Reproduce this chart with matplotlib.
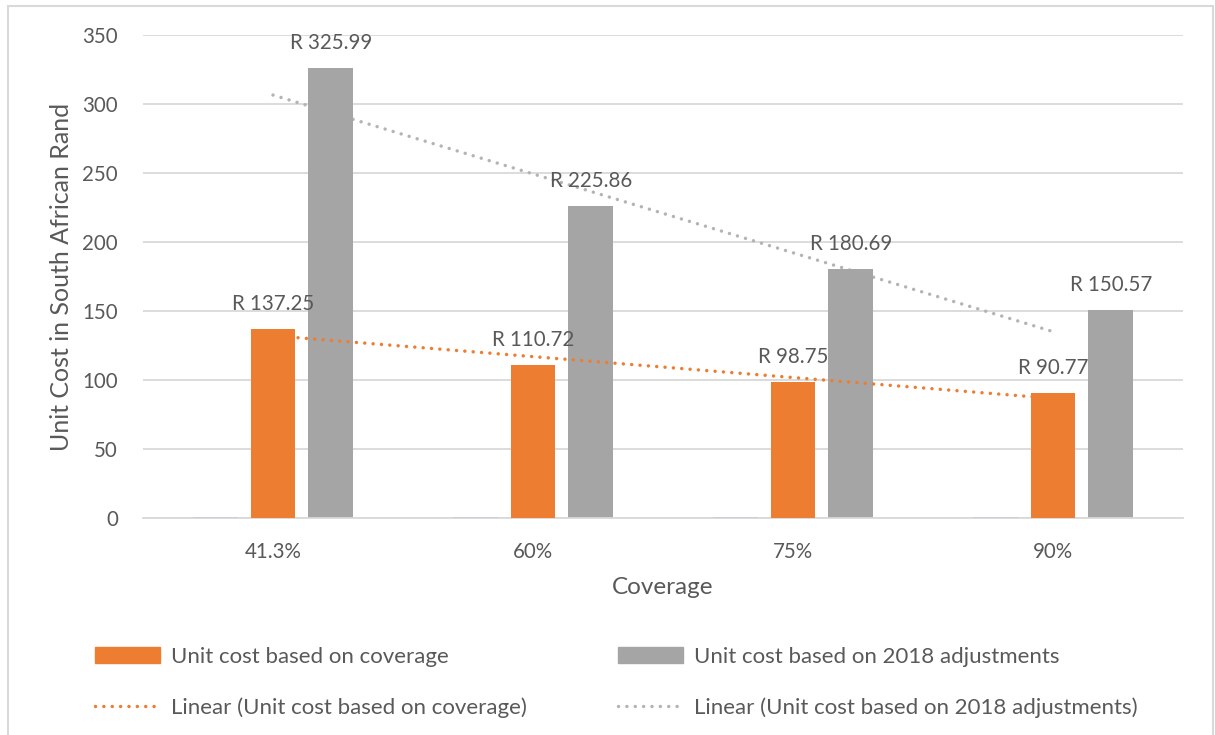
import numpy as np
import matplotlib
matplotlib.use("Agg")
import matplotlib.pyplot as plt
from matplotlib.patches import Rectangle
from matplotlib.lines import Line2D

# data
coverage_labels = ["41.3%", "60%", "75%", "90%"]
coverage_frac = [0.413, 0.60, 0.75, 0.90]          # hidden third series (near zero)
unit_cost_coverage = [137.25, 110.72, 98.75, 90.77]
unit_cost_2018 = [325.99, 225.86, 180.69, 150.57]

ORANGE = "#ED7D31"
GREY = "#A5A5A5"
GREY_TREND = "#B4B4B4"
BLUE = "#4472C4"
TEXT = "#595959"
GRID = "#D9D9D9"
DOTS = (0, (0.01, 2.4))

plt.rcParams["font.family"] = ["Lato", "DejaVu Sans"]

W, H = 1215, 735
fig = plt.figure(figsize=(W / 100, H / 100), dpi=100)
ax = fig.add_axes([143 / W, 1 - 518 / H, (1183 - 143) / W, (518 - 35) / H])

x = np.arange(1, len(coverage_labels) + 1)
bw = 0.173
off = 0.223

ax.bar(x - off, coverage_frac, bw, color=BLUE, zorder=2)
ax.bar(x, unit_cost_coverage, bw, color=ORANGE, zorder=4)
ax.bar(x + off, unit_cost_2018, bw, color=GREY, zorder=2)

# linear trend lines (Excel style, over category index)
xs = np.array([x[0], x[-1]])
p1 = np.polyfit(x, unit_cost_coverage, 1)
p2 = np.polyfit(x, unit_cost_2018, 1)
ax.plot(xs, np.polyval(p1, xs), color=ORANGE, lw=2.5, ls=DOTS,
        dash_capstyle="round", zorder=3)
ax.plot(xs, np.polyval(p2, xs), color=GREY_TREND, lw=2.5, ls=DOTS,
        dash_capstyle="round", zorder=1.5)

# data labels
for xi, v in zip(x, unit_cost_coverage):
    ax.annotate(f"R {v:.2f}", (xi, v), xytext=(0, 18), textcoords="offset points",
                ha="center", va="center", fontsize=14.8, color=TEXT, zorder=6)
for xi, v in zip(x + off, unit_cost_2018):
    ax.annotate(f"R {v:.2f}", (xi, v), xytext=(0, 18), textcoords="offset points",
                ha="center", va="center", fontsize=14.8, color=TEXT, zorder=6)

ax.set_xlim(0.5, 4.5)
ax.set_ylim(0, 350)
ax.set_yticks(range(0, 351, 50))
ax.set_xticks(x)
ax.set_xticklabels(coverage_labels)
ax.tick_params(axis="both", length=0, labelsize=14.8, labelcolor=TEXT)
ax.tick_params(axis="y", pad=18)
ax.tick_params(axis="x", pad=17)
ax.grid(axis="y", color=GRID, lw=1.3, zorder=0)
ax.set_axisbelow(True)
for s in ["top", "right", "left"]:
    ax.spines[s].set_visible(False)
ax.spines["bottom"].set_color(GRID)
ax.spines["bottom"].set_linewidth(1.3)

ax.set_xlabel("Coverage", fontsize=17.5, color=TEXT, labelpad=11)
ax.set_ylabel("Unit Cost in South African Rand", fontsize=18, color=TEXT, labelpad=7)

handles = [
    Rectangle((0, 0), 1, 1, color=ORANGE),
    Line2D([], [], color=ORANGE, lw=2.5, ls=DOTS, dash_capstyle="round"),
    Rectangle((0, 0), 1, 1, color=GREY),
    Line2D([], [], color=GREY_TREND, lw=2.5, ls=DOTS, dash_capstyle="round"),
]
labels = [
    "Unit cost based on coverage",
    "Linear (Unit cost based on coverage)",
    "Unit cost based on 2018 adjustments",
    "Linear (Unit cost based on 2018 adjustments)",
]
leg = fig.legend(handles, labels, ncol=2, loc="upper left",
                 bbox_to_anchor=(95 / W, 1 - 647 / H), frameon=False,
                 fontsize=16, labelcolor=TEXT, handlelength=2.93,
                 handletextpad=0.5, columnspacing=4.1, labelspacing=1.35,
                 borderpad=0, borderaxespad=0)

# chart border
fig.patches.append(Rectangle((8 / W, -0.05), (1213 - 8) / W, 1.05 - 6 / H,
                             transform=fig.transFigure, fill=False,
                             edgecolor="#D9D9D9", lw=1.5))

fig.savefig("out.png", dpi=100)
